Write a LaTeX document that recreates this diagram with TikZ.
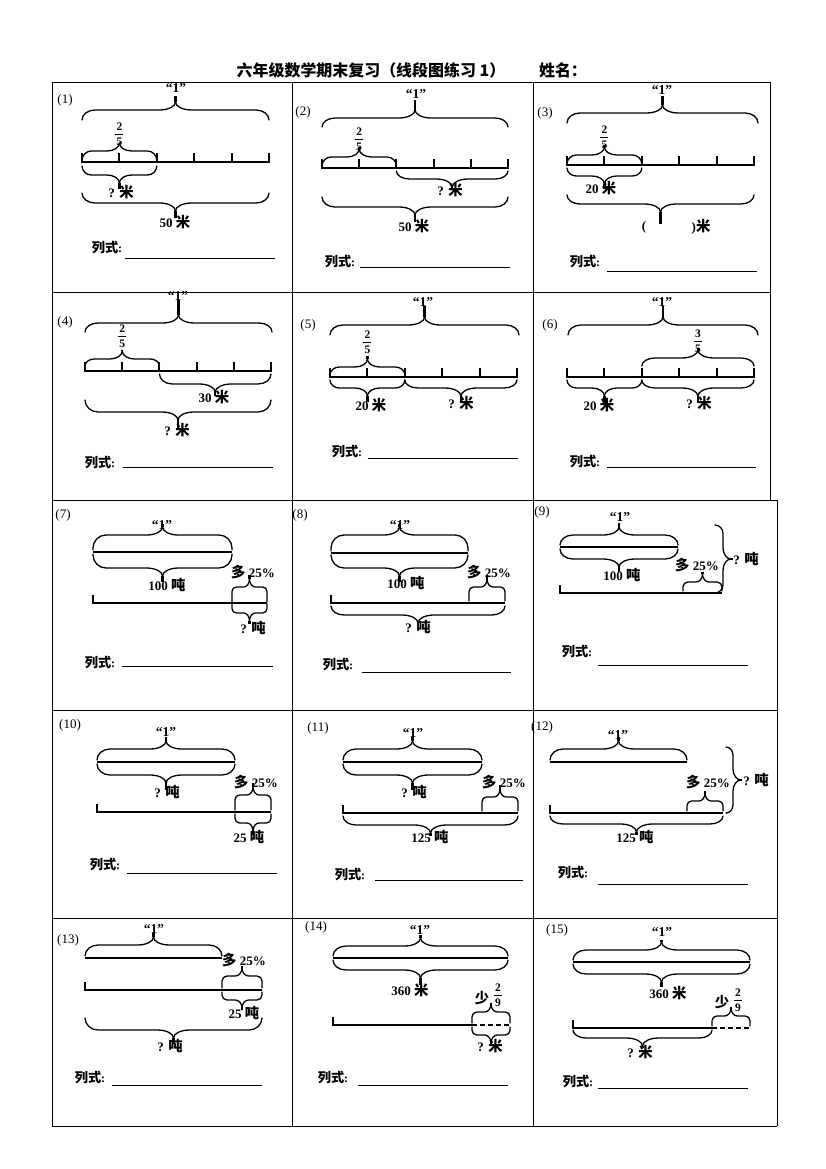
\documentclass[tikz,border=0pt]{standalone}
\usepackage{fontspec}
\setmainfont{Liberation Serif}
\newfontfamily\cjk[Scale=1.1]{Noto Sans CJK SC}
\newcounter{lbl}
\newcommand\Mi{{\cjk\bfseries 米}}
\newcommand\Dun{{\cjk\bfseries 吨}}
\newcommand\Duo{{\cjk\bfseries 多}}
\newcommand\Shao{{\cjk\bfseries 少}}
\newcommand\LS{{\cjk\bfseries 列式}:}
\tikzset{
 brc/.style={line width=1.3pt, line cap=round},
 tipl/.style={line width=2.2pt},
 seg/.style={line width=2pt},
 grd/.style={line width=0.9pt},
 uline/.style={line width=0.8pt},
 lbl/.style={inner sep=0pt, font=\bfseries\fontsize{13}{14}\selectfont},
 lsf/.style={inner sep=0pt, font=\bfseries\fontsize{12}{13}\selectfont},
 one/.style={inner sep=0pt, font=\bfseries\fontsize{13.5}{14}\selectfont},
 pno/.style={inner sep=0pt, font=\fontsize{13}{14}\selectfont},
 frc/.style={inner sep=0pt, font=\bfseries\fontsize{11.5}{12}\selectfont},
 hdr/.style={inner sep=0pt, font=\bfseries\fontsize{14.5}{16}\selectfont},
}
\newcommand\T[4][lbl]{\stepcounter{lbl}\node[#1] (n\arabic{lbl}) at (#2,#3) {#4};}
% horizontal brace: x1 x2 yEnd yBody yTip
\newcommand\HB[5]{%
 \pgfmathsetmacro\hbxc{(#1+#2)/2}%
 \pgfmathsetmacro\hbw{abs(#2-#1)}%
 \pgfmathsetmacro\hbr{min(13,\hbw/8)}%
 \pgfmathsetmacro\hbc{min(16,\hbw/6)}%
 \pgfmathsetmacro\hbs{ifthenelse(#5>#4,1,-1)}%
 \pgfmathsetmacro\hbm{#4+\hbs*min(8,abs(#5-#4))}%
 \pgfmathsetmacro\hbv{#4+ifthenelse(#3>#4,1,-1)*min(\hbr,abs(#3-#4))}%
 \pgfmathsetmacro\hbe{#4+(\hbv-#4)*0.45}%
 \pgfmathsetmacro\hbk{#4+(\hbm-#4)*0.45}%
 \draw[brc] (#1,#3) -- (#1,\hbv) .. controls (#1,\hbe) and (#1+0.45*\hbr,#4) .. (#1+\hbr,#4) -- (\hbxc-\hbc,#4) .. controls (\hbxc-0.45*\hbc,#4) and (\hbxc,\hbk) .. (\hbxc,\hbm);
 \draw[brc] (#2,#3) -- (#2,\hbv) .. controls (#2,\hbe) and (#2-0.45*\hbr,#4) .. (#2-\hbr,#4) -- (\hbxc+\hbc,#4) .. controls (\hbxc+0.45*\hbc,#4) and (\hbxc,\hbk) .. (\hbxc,\hbm);
 \draw[tipl] (\hbxc,\hbm) -- (\hbxc,#5);
}
% vertical brace: y1 y2 xEnd xBody xTip
\newcommand\VB[5]{%
 \pgfmathsetmacro\vbyc{(#1+#2)/2}%
 \pgfmathsetmacro\vbw{abs(#2-#1)}%
 \pgfmathsetmacro\vbr{min(13,\vbw/8)}%
 \pgfmathsetmacro\vbc{min(16,\vbw/6)}%
 \pgfmathsetmacro\vbs{ifthenelse(#5>#4,1,-1)}%
 \pgfmathsetmacro\vbm{#4+\vbs*min(8,abs(#5-#4))}%
 \pgfmathsetmacro\vbv{#4+ifthenelse(#3>#4,1,-1)*min(\vbr,abs(#3-#4))}%
 \pgfmathsetmacro\vbe{#4+(\vbv-#4)*0.45}%
 \pgfmathsetmacro\vbk{#4+(\vbm-#4)*0.45}%
 \draw[brc] (#3,#1) -- (\vbv,#1) .. controls (\vbe,#1) and (#4,#1+0.45*\vbr) .. (#4,#1+\vbr) -- (#4,\vbyc-\vbc) .. controls (#4,\vbyc-0.45*\vbc) and (\vbk,\vbyc) .. (\vbm,\vbyc);
 \draw[brc] (#3,#2) -- (\vbv,#2) .. controls (\vbe,#2) and (#4,#2-0.45*\vbr) .. (#4,#2-\vbr) -- (#4,\vbyc+\vbc) .. controls (#4,\vbyc+0.45*\vbc) and (\vbk,\vbyc) .. (\vbm,\vbyc);
 \draw[tipl] (\vbm,\vbyc) -- (#5,\vbyc);
}
% segment with 5 equal parts: x1 x2 y
\newcommand\SEG[3]{%
 \draw[seg] (#1,#3) -- (#2,#3);
 \foreach \i in {0,...,5}{\draw[seg] ({#1+\i*(#2-#1)/5},#3+1) -- ({#1+\i*(#2-#1)/5},#3-9);}
}
% fraction: x y num den
\newcommand\FR[4]{%
 \T[frc]{#1}{#2-7}{#3}
 \draw[line width=0.8pt] (#1-4,#2) -- (#1+4,#2);
 \T[frc]{#1}{#2+7.5}{#4}
}
% answer line: "列式:" x y, line x1 x2 y
\newcommand\ANS[5]{%
 \T[lsf]{#1}{#2}{\LS}
 \draw[uline] (#3,#5) -- (#4,#5);
}
\begin{document}
\begin{tikzpicture}[x=1pt,y=-1pt]
\useasboundingbox (0,0) rectangle (826,1169);
\fill[white] (0,0) rectangle (826,1169);
% header
\node[hdr] (title) at (371,70) {\cjk 六年级数学期末复习（线段图练习 1）};
\node[hdr] (name) at (563,70) {\cjk 姓名：};
% grid
\draw[grd] (52,82) -- (770,82);
\draw[grd] (52,292) -- (770,292);
\draw[grd] (52,500) -- (777,500);
\draw[grd] (52,710) -- (777,710);
\draw[grd] (52,918) -- (777,918);
\draw[grd] (52,1126) -- (777,1126);
\draw[grd] (52,82) -- (52,1126);
\draw[grd] (292,82) -- (292,1126);
\draw[grd] (533,82) -- (533,1126);
\draw[grd] (770,82) -- (770,500);
\draw[grd] (777,500) -- (777,1126);

% ---------- (1)
\T[pno]{65}{100}{(1)}
\T[one]{176}{88}{“1”}
\HB{82}{269}{120}{110}{96}
\FR{119.4}{134}{2}{5}
\HB{82}{156.8}{161}{151}{143}
\SEG{82}{269}{162}
\HB{82}{156.8}{166}{175}{189}
\T{121}{192}{? \Mi}
\HB{82}{269}{193}{203}{218}
\T{175}{222}{50 \Mi}
\ANS{107}{248}{125}{275}{258}

% ---------- (2)
\T[pno]{303}{112}{(2)}
\T[one]{416}{94}{“1”}
\HB{322}{508}{127}{118}{100}
\FR{359.2}{139}{2}{5}
\HB{322}{396.4}{166}{157}{147}
\SEG{322}{508}{168}
\HB{396.4}{508}{171}{179}{189}
\T{450}{190}{? \Mi}
\HB{322}{508}{197}{207}{222}
\T{414}{226}{50 \Mi}
\ANS{340}{262}{360}{510}{267}

% ---------- (3)
\T[pno]{545}{113}{(3)}
\T[one]{662}{90}{“1”}
\HB{567}{758}{123}{113}{96}
\FR{604.4}{137}{2}{5}
\HB{567}{641.8}{164}{155}{145}
\SEG{567}{754}{165}
\HB{567}{641.8}{168}{176}{189}
\T{601}{188}{20 \Mi}
\HB{567}{754}{195}{204}{224}
\T{644}{227}{(}
\T{701}{227}{)\Mi}
\ANS{585}{262}{607}{757}{271}

% ---------- (4)
\T[pno]{65}{322}{(4)}
\T[one]{178}{296}{“1”}
\HB{85}{272}{332}{323}{300}
\FR{122.2}{336}{2}{5}
\HB{85}{159.4}{366}{359}{350}
\SEG{85}{271}{371}
\HB{159.4}{271}{374}{384}{396}
\T{214}{397}{30 \Mi}
\HB{85}{271}{400}{412}{429}
\T{177}{430}{? \Mi}
\ANS{100}{463}{123}{273}{467}

% ---------- (5)
\T[pno]{308}{325}{(5)}
\T[one]{423}{302}{“1”}
\HB{330}{519}{335}{325}{306}
\FR{367.4}{342}{2}{5}
\HB{330}{404.8}{375}{367}{356}
\SEG{330}{517}{377}
\HB{330}{404.8}{380}{388}{402}
\T{371}{405}{20 \Mi}
\HB{404.8}{517}{380}{388}{402}
\T{461}{403}{? \Mi}
\ANS{347}{452}{368}{518}{458}

% ---------- (6)
\T[pno]{550}{325}{(6)}
\T[one]{662}{302}{“1”}
\HB{568}{758}{335}{325}{306}
\FR{697.9}{341}{3}{5}
\HB{641.8}{754}{366}{358}{348}
\SEG{567}{754}{377}
\HB{567}{641.8}{380}{388}{403}
\T{599}{405}{20 \Mi}
\HB{641.8}{754}{380}{388}{403}
\T{699}{403}{? \Mi}
\ANS{585}{462}{607}{756}{467}

% ---------- (7)
\T[pno]{63}{515}{(7)}
\T[one]{162}{525}{“1”}
\draw[seg] (93,552) -- (232,552);
\HB{93}{232}{550}{535}{524}
\HB{93}{232}{554}{568}{582}
\T{167}{585}{100 \Dun}
\draw[seg] (93,595) -- (93,603) -- (267,603);
\HB{232}{267}{602}{587}{575}
\HB{232}{267}{604}{613}{624}
\T{253}{572}{\Duo\ 25\%}
\T{253}{628}{? \Dun}
\ANS{100}{663}{122}{273}{666}

% ---------- (8)
\T[pno]{300}{515}{(8)}
\T[one]{400}{525}{“1”}
\draw[seg] (331,553) -- (468,553);
\HB{331}{468}{551}{535}{524}
\HB{331}{468}{555}{568}{582}
\T{406}{583}{100 \Dun}
\draw[seg] (331,595) -- (331,603) -- (505,603);
\HB{469}{505}{601}{587}{575}
\HB{331}{505}{606}{615}{626}
\T{489}{572}{\Duo\ 25\%}
\T{418}{627}{? \Dun}
\ANS{338}{665}{362}{511}{672}

% ---------- (9)
\T[pno]{542}{512}{(9)}
\T[one]{620}{517}{“1”}
\draw[seg] (560,547) -- (678,547);
\HB{560}{678}{545}{535}{523}
\HB{560}{678}{549}{559}{572}
\T{622}{575}{100 \Dun}
\draw[seg] (560,585) -- (560,593) -- (722,593);
\HB{683}{722}{591}{582}{572}
\VB{525}{593}{715}{723}{733}
\T{697}{565}{\Duo\ 25\%}
\T{746}{559}{? \Dun}
\ANS{577}{652}{598}{748}{665}

% ---------- (10)
\T[pno]{70}{725}{(10)}
\T[one]{166}{732}{“1”}
\draw[seg] (97,762) -- (235,762);
\HB{97}{235}{760}{749}{737}
\HB{97}{235}{764}{775}{790}
\T{167}{792}{? \Dun}
\draw[seg] (97,804) -- (97,812) -- (271,812);
\HB{235}{271}{810}{795}{783}
\HB{235}{271}{814}{823}{835}
\T{256}{782}{\Duo\ 25\%}
\T{249}{837}{25 \Dun}
\ANS{105}{865}{127}{277}{873}

% ---------- (11)
\T[pno]{318}{728}{(11)}
\T[one]{413}{733}{“1”}
\draw[seg] (343,762) -- (482,762);
\HB{343}{482}{760}{749}{737}
\HB{343}{482}{764}{775}{790}
\T{414}{792}{? \Dun}
\draw[seg] (343,805) -- (343,813) -- (518,813);
\HB{482}{518}{811}{797}{785}
\HB{343}{518}{816}{825}{836}
\T{504}{782}{\Duo\ 25\%}
\T{430}{837}{125 \Dun}
\ANS{350}{875}{375}{523}{880}

% ---------- (12)
\T[pno]{542}{727}{(12)}
\T[one]{618}{735}{“1”}
\draw[seg] (550,762) -- (687,762);
\HB{550}{687}{760}{749}{737}
\draw[seg] (550,805) -- (550,813) -- (723,813);
\HB{687}{723}{811}{801}{791}
\VB{747}{813}{726}{733}{742}
\HB{550}{723}{816}{824}{835}
\T{708}{782}{\Duo\ 25\%}
\T{756}{780}{? \Dun}
\T{635}{837}{125 \Dun}
\ANS{573}{873}{598}{748}{884}

% ---------- (13)
\T[pno]{68}{940}{(13)}
\T[one]{154}{929}{“1”}
\draw[seg] (85,958) -- (222,958);
\HB{85}{222}{956}{945}{933}
\draw[seg] (85,982) -- (85,990) -- (262,990);
\HB{222}{262}{988}{976}{966}
\HB{222}{262}{992}{1000}{1010}
\T{244}{960}{\Duo\ 25\%}
\T{244}{1013}{25 \Dun}
\HB{85}{262}{1018}{1030}{1044}
\T{170}{1046}{? \Dun}
\ANS{90}{1078}{112}{262}{1085}

% ---------- (14)
\T[pno]{316}{927}{(14)}
\T[one]{420}{930}{“1”}
\draw[seg] (333,958) -- (508,958);
\HB{333}{508}{956}{946}{935}
\HB{333}{508}{960}{970}{985}
\T{410}{990}{360 \Mi}
\draw[seg] (333,1017) -- (333,1025) -- (472,1025);
\draw[seg, dash pattern=on 5pt off 3pt] (472,1025) -- (510,1025);
\HB{472}{510}{1023}{1012}{1003}
\HB{472}{510}{1027}{1035}{1044}
\T{482}{998}{\Shao}
\FR{498}{995}{2}{9}
\T{490}{1046}{? \Mi}
\ANS{333}{1078}{358}{508}{1085}

% ---------- (15)
\T[pno]{557}{930}{(15)}
\T[one]{662}{932}{“1”}
\draw[seg] (573,962) -- (750,962);
\HB{573}{750}{960}{950}{940}
\HB{573}{750}{964}{974}{987}
\T{668}{993}{360 \Mi}
\draw[seg] (573,1020) -- (573,1028) -- (712,1028);
\draw[seg, dash pattern=on 5pt off 3pt] (712,1028) -- (750,1028);
\HB{712}{750}{1026}{1016}{1007}
\HB{573}{712}{1030}{1038}{1048}
\T{640}{1052}{? \Mi}
\T{722}{1002}{\Shao}
\FR{738}{1000}{2}{9}
\ANS{578}{1082}{598}{748}{1088}
\end{tikzpicture}
\end{document}
